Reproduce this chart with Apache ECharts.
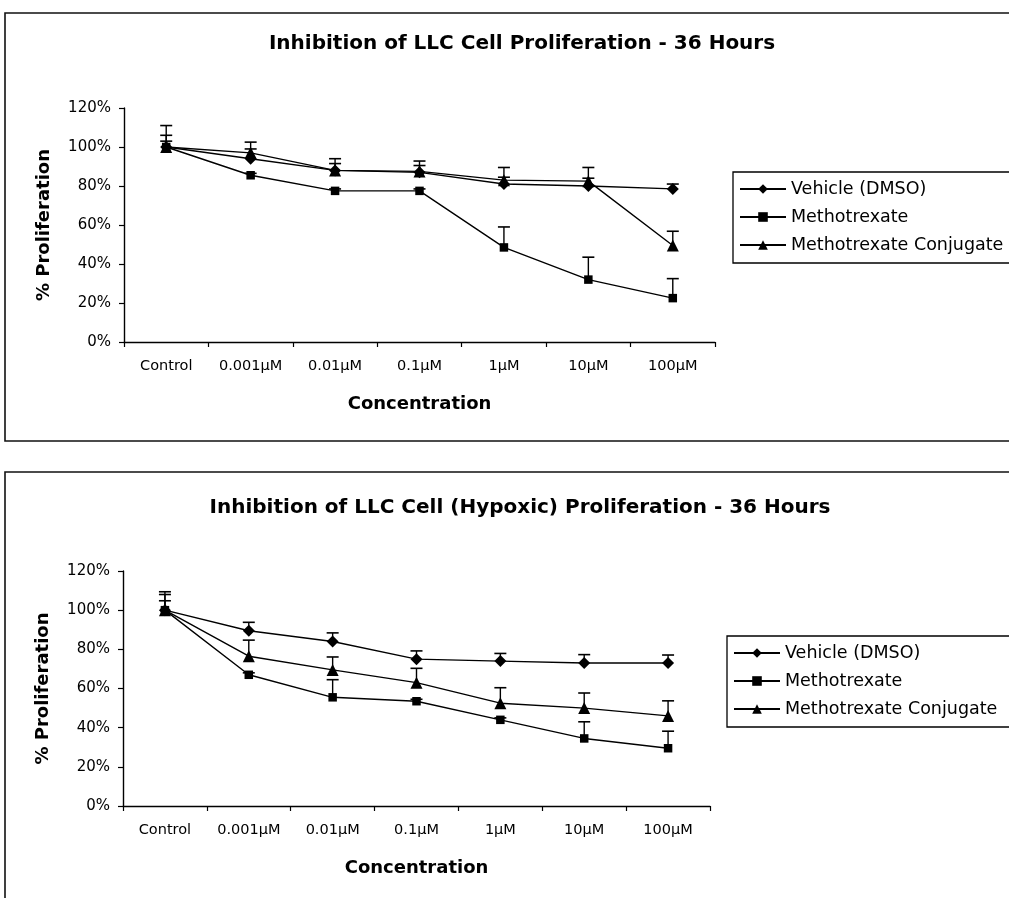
<!DOCTYPE html>
<html>
<head>
<meta charset="utf-8">
<script src="https://cdn.jsdelivr.net/npm/echarts@6/dist/echarts.min.js"></script>
<style>
  html, body { margin: 0; padding: 0; background: #fff; }
  #chart { width: 1009px; height: 898px; }
</style>
</head>
<body>
<div id="chart"></div>
<script>
// ---- Data ----
const categories = ['Control', '0.001µM', '0.01µM', '0.1µM', '1µM', '10µM', '100µM'];
const seriesNames = ['Vehicle (DMSO)', 'Methotrexate', 'Methotrexate Conjugate'];
const yTicks = [0, 20, 40, 60, 80, 100, 120];

// Chart 1: Inhibition of LLC Cell Proliferation - 36 Hours
const vehicleA = [100, 94, 88, 87, 81, 80, 78.5];
const mtxA     = [100, 85.5, 77.5, 77.5, 48.5, 32, 22.5];
const conjA    = [100, 97, 88, 87.5, 83, 82.5, 49.5];
const vehicleAErr = [6, 8.5, 6, 5.8, 8.5, 9.5, 2.5];
const mtxAErr     = [3, 1, 1, 1, 10.5, 11.5, 10];
const conjAErr    = [11, 2, 3.5, 3, 1.5, 1.5, 7.3];

// Chart 2: Inhibition of LLC Cell (Hypoxic) Proliferation - 36 Hours
const vehicleB = [100, 89.5, 84, 75, 74, 73, 73];
const mtxB     = [100, 67, 55.5, 53.5, 44, 34.5, 29.5];
const conjB    = [100, 76.5, 69.5, 63, 52.5, 50, 46];
const vehicleBErr = [4.8, 4.3, 4.4, 4.2, 3.9, 4.3, 4.1];
const mtxBErr     = [8, 1, 9, 1, 1, 8.5, 8.7];
const conjBErr    = [9.4, 8.2, 6.6, 7.3, 7.9, 7.7, 7.7];

const titles = ['Inhibition of LLC Cell Proliferation - 36 Hours',
                'Inhibition of LLC Cell (Hypoxic) Proliferation - 36 Hours'];
const xName = 'Concentration';
const yName = '% Proliferation';

// ---- Build ----
const FONT = 'DejaVu Sans';
const symbols = ['diamond', 'rect', 'triangle'];
const symbolSizes = [12, 8.5, 12];

function errRender(params, api) {
  const x = api.value(0), v = api.value(1), e = api.value(2);
  const p0 = api.coord([x, v]);
  const p1 = api.coord([x, v + e]);
  return {
    type: 'group',
    children: [
      { type: 'line', shape: { x1: p0[0], y1: p0[1], x2: p1[0], y2: p1[1] },
        style: { stroke: '#000', lineWidth: 1.4 } },
      { type: 'line', shape: { x1: p1[0] - 6, y1: p1[1], x2: p1[0] + 6, y2: p1[1] },
        style: { stroke: '#000', lineWidth: 1.6 } }
    ]
  };
}

const chartSets = [
  { vals: [vehicleA, mtxA, conjA], errs: [vehicleAErr, mtxAErr, conjAErr] },
  { vals: [vehicleB, mtxB, conjB], errs: [vehicleBErr, mtxBErr, conjBErr] }
];

const grids = [
  { left: 124, top: 108, width: 591, height: 234 },
  { left: 123, top: 571, width: 587, height: 235 }
];

const series = [];
chartSets.forEach((set, gi) => {
  set.vals.forEach((vals, si) => {
    series.push({
      type: 'line',
      name: seriesNames[si],
      xAxisIndex: gi, yAxisIndex: gi,
      data: vals,
      symbol: symbols[si],
      symbolSize: symbolSizes[si],
      showAllSymbol: true,
      color: '#000',
      lineStyle: { color: '#000', width: 1.4 },
      itemStyle: { color: '#000' },
      z: 3
    });
  });
  set.vals.forEach((vals, si) => {
    series.push({
      type: 'custom',
      name: seriesNames[si] + ' error',
      xAxisIndex: gi, yAxisIndex: gi,
      renderItem: errRender,
      data: categories.map((c, i) => [i, vals[i], set.errs[si][i]]),
      color: '#000',
      z: 2,
      silent: true
    });
  });
});

const xAxes = grids.map((g, gi) => ({
  type: 'category',
  gridIndex: gi,
  data: categories,
  boundaryGap: true,
  axisLine: { lineStyle: { color: '#000', width: 1.4 } },
  axisTick: { show: true, interval: 0, length: 5, lineStyle: { color: '#000', width: 1.2 } },
  axisLabel: { color: '#000', fontSize: 14.5, fontFamily: FONT, margin: 17, interval: 0, hideOverlap: false },
  name: xName,
  nameLocation: 'middle',
  nameGap: 53,
  nameTextStyle: { color: '#000', fontSize: 18, fontWeight: 'bold', fontFamily: FONT }
}));

const yAxes = grids.map((g, gi) => ({
  type: 'value',
  gridIndex: gi,
  min: yTicks[0],
  max: yTicks[yTicks.length - 1],
  interval: yTicks[1] - yTicks[0],
  axisLine: { show: true, lineStyle: { color: '#000', width: 1.4 } },
  axisTick: { show: true, length: 5, lineStyle: { color: '#000', width: 1.2 } },
  splitLine: { show: false },
  axisLabel: { color: '#000', fontSize: 15, fontFamily: FONT, margin: 13, formatter: '{value}%' },
  name: yName,
  nameLocation: 'middle',
  nameGap: 71,
  nameRotate: 90,
  nameTextStyle: { color: '#000', fontSize: 18, fontWeight: 'bold', fontFamily: FONT }
}));

const legendBase = {
  orient: 'vertical',
  data: seriesNames.slice(),
  itemWidth: 46,
  itemHeight: 12,
  itemGap: 10,
  borderColor: '#000',
  borderWidth: 1.3,
  borderRadius: 0,
  padding: [8, 40, 9, 6],
  textStyle: { color: '#000', fontSize: 17.5, fontFamily: FONT },
  selectedMode: false
};

const option = {
  backgroundColor: '#fff',
  animation: false,
  color: ['#000'],
  title: [
    { text: titles[0], left: 517, top: 29, textAlign: 'center',
      textStyle: { color: '#000', fontSize: 20, fontWeight: 'bold', fontFamily: FONT } },
    { text: titles[1], left: 515, top: 493, textAlign: 'center',
      textStyle: { color: '#000', fontSize: 20, fontWeight: 'bold', fontFamily: FONT } }
  ],
  legend: [
    Object.assign({}, legendBase, { left: 733, top: 172 }),
    Object.assign({}, legendBase, { left: 727, top: 636 })
  ],
  grid: grids,
  xAxis: xAxes,
  yAxis: yAxes,
  series: series,
  graphic: [
    { type: 'rect', shape: { x: 5, y: 13, width: 1030, height: 428 },
      style: { fill: 'none', stroke: '#111', lineWidth: 1.6 }, z: 0 },
    { type: 'rect', shape: { x: 5, y: 472, width: 1030, height: 460 },
      style: { fill: 'none', stroke: '#111', lineWidth: 1.6 }, z: 0 }
  ]
};

const chart = echarts.init(document.getElementById('chart'));
chart.setOption(option);
</script>
</body>
</html>
